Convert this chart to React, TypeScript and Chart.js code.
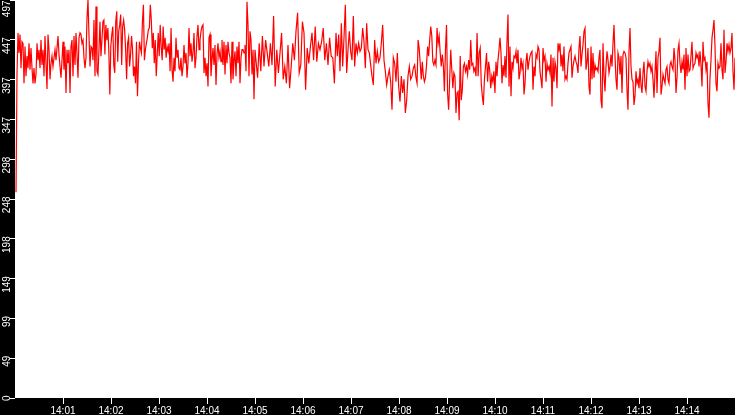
import { useEffect, useRef } from "react"
import { Chart, registerables } from "chart.js"

Chart.register(...registerables)

// readings per ~80px stretch of the plot, left to right (14:00 → 14:15)
const seg0 = [257, 405, 456, 431, 454, 412, 445, 443, 393, 439, 402, 427, 412, 443, 410, 437, 412, 393, 412, 393, 404, 443, 422, 435, 412, 447, 416, 435, 402, 452, 418, 386, 454, 435, 398, 418, 427, 414, 425, 435, 422, 437, 452, 429, 414, 400, 422, 445, 410, 439, 381, 435, 418, 435, 381, 439, 447, 402, 452, 416, 456, 429, 400, 450, 456, 454, 443, 447, 425, 412, 425, 475, 497, 452, 414, 439, 437, 422, 472, 402]
const seg1 = [489, 408, 404, 435, 470, 427, 447, 470, 472, 429, 466, 447, 462, 433, 379, 439, 454, 464, 416, 406, 470, 483, 420, 458, 466, 479, 416, 464, 472, 460, 435, 398, 443, 450, 414, 429, 452, 435, 402, 414, 393, 445, 377, 418, 445, 437, 431, 470, 491, 422, 435, 443, 450, 460, 462, 491, 472, 437, 456, 418, 447, 402, 429, 456, 427, 466, 439, 422, 464, 435, 450, 425, 439, 433, 443, 408, 462, 410, 395, 425, 408]
const seg2 = [450, 425, 435, 412, 410, 425, 402, 414, 441, 418, 431, 400, 418, 462, 427, 443, 420, 431, 456, 412, 425, 452, 466, 435, 447, 458, 464, 466, 406, 425, 402, 418, 389, 450, 454, 402, 422, 437, 416, 441, 391, 429, 443, 425, 433, 420, 447, 416, 445, 404, 441, 418, 445, 431, 425, 393, 445, 398, 420, 433, 402, 439, 418, 445, 393, 425, 435, 435, 431, 441, 408, 495, 466, 402, 458, 447, 404, 435, 373, 435]
const seg3 = [435, 400, 443, 408, 452, 414, 447, 431, 414, 443, 416, 477, 389, 435, 406, 431, 456, 398, 414, 393, 441, 387, 414, 443, 422, 458, 481, 406, 416, 470, 456, 385, 437, 418, 439, 456, 422, 464, 420, 443, 435, 445, 462, 422, 443, 416, 450, 427, 425, 393]
const seg4 = [456, 427, 454, 408, 468, 414, 450, 491, 406, 435, 458, 433, 422, 477, 414, 443, 431, 443, 433, 437, 462, 445, 412, 468, 435, 431, 416, 402, 391, 447, 418, 433, 420, 425, 443, 466, 422, 408, 391, 402, 410, 395, 360, 425, 418, 395, 431, 389, 370, 402, 381, 398, 356, 372, 402, 414, 398, 402, 412, 416]
const seg5 = [400, 393, 447, 437, 418, 398, 420, 402, 395, 400, 416, 439, 427, 447, 464, 452, 420, 416, 422, 416, 462, 443, 452, 431, 414, 429, 416, 383, 435, 466, 381, 360, 398, 435, 410, 387, 406, 402, 356, 381, 383, 347, 427, 372, 385, 414, 418, 408, 414, 404, 422, 410, 447, 416, 418, 408, 412, 402, 456, 402, 431, 437, 393, 377, 366, 398, 414, 431, 395, 420, 410, 387, 402, 395, 408, 381]
const seg6 = [420, 402, 422, 435, 450, 431, 393, 416, 402, 427, 400, 445, 479, 389, 439, 377, 420, 412, 427, 425, 433, 418, 435, 398, 406, 425, 412, 418, 379, 393, 420, 431, 410, 420, 427, 431, 433, 385, 414, 402, 429, 425, 439, 435, 408, 398, 387, 437, 422, 427, 395, 418, 410, 414, 406, 429, 364, 425, 395, 420, 412, 387, 443, 435, 443, 414, 429, 408, 439, 398, 402, 398, 418, 431, 435, 439, 400, 414, 422, 427]
const seg7 = [420, 416, 406, 437, 452, 414, 429, 441, 458, 462, 410, 420, 437, 389, 379, 439, 398, 431, 400, 416, 410, 412, 408, 425, 435, 372, 362, 443, 402, 383, 414, 433, 422, 406, 414, 429, 414, 443, 466, 427, 398, 385, 431, 425, 404, 427, 381, 429, 433, 431, 425, 385, 360, 433, 462, 414, 398, 395, 366, 377, 408, 393, 398, 387, 412, 391, 381, 406, 420, 389, 383, 408, 420, 414, 418, 408, 414, 398, 375, 406]
const seg8 = [433, 381, 425, 433, 450, 379, 389, 404, 398, 393, 410, 414, 398, 393, 416, 420, 414, 410, 437, 422, 381, 400, 435, 443, 418, 406, 420, 410, 429, 385, 437, 402, 429, 408, 410, 427, 445, 412, 416, 418, 431, 425, 429, 414, 433, 416, 389, 445, 422, 425, 410, 420, 368, 350, 400, 422, 450, 460, 472, 439, 393, 383, 418, 412, 414, 443, 410, 398, 460, 406, 420, 443, 433, 441, 431, 437, 456, 408, 385, 425]

const segments = [seg0, seg1, seg2, seg3, seg4, seg5, seg6, seg7, seg8]
const segSeconds = 100 // each stretch covers 100 s
const startSecond = 1.25
const yMax = 497.1
const xMax = 900 // 14:00 → 14:15, in seconds
const minuteTicks = [1, 2, 3, 4, 5, 6, 7, 8, 9, 10, 11, 12, 13, 14]

const points = segments.flatMap((seg, k) =>
  seg.map((v, i) => ({ x: startSecond + k * segSeconds + (i * segSeconds) / seg.length, y: v }))
)

const frame = {
  id: "frame",
  beforeDraw(chart: Chart) {
    const { ctx, chartArea, width, height } = chart
    ctx.save()
    ctx.fillStyle = "#000"
    ctx.fillRect(0, 0, width, height)
    ctx.fillStyle = "#fff"
    ctx.fillRect(chartArea.left, chartArea.top, chartArea.right - chartArea.left, chartArea.bottom - chartArea.top)
    ctx.restore()
  },
  afterDraw(chart: Chart) {
    // vertical y labels, reading bottom to top
    const { ctx } = chart
    const y = chart.scales.y
    ctx.save()
    ctx.fillStyle = "#fff"
    ctx.font = "10px 'Liberation Sans'"
    ctx.textAlign = "right"
    ctx.textBaseline = "alphabetic"
    y.ticks.forEach((t) => {
      const py = y.getPixelForValue(t.value)
      const end = Math.max(py - 2.5, 0.5)
      ctx.save()
      ctx.translate(9.5, end)
      ctx.rotate(-Math.PI / 2)
      ctx.fillText(String(Math.floor(t.value)), 0, 0)
      ctx.restore()
    })
    ctx.restore()
  },
}

export default function App() {
  const chartRef = useRef<HTMLCanvasElement | null>(null)
  const chartInstance = useRef<Chart | null>(null)

  useEffect(() => {
    if (!chartRef.current) return
    if (chartInstance.current) chartInstance.current.destroy()

    const ctx = chartRef.current.getContext("2d")
    if (!ctx) return

    chartInstance.current = new Chart(ctx, {
      type: "line",
      data: {
        datasets: [
          {
            data: points,
            borderColor: "rgb(255, 0, 0)",
            borderWidth: 1.2,
            pointRadius: 0,
            tension: 0,
            fill: false,
          },
        ],
      },
      options: {
        responsive: true,
        maintainAspectRatio: false,
        animation: false,
        layout: { padding: 0 },
        plugins: { legend: { display: false }, tooltip: { enabled: false } },
        scales: {
          x: {
            type: "linear",
            min: 0,
            max: xMax,
            afterBuildTicks: (axis) => {
              axis.ticks = minuteTicks.map((m) => ({ value: m * 60 }))
            },
            afterFit: (axis) => {
              axis.height = 17
            },
            grid: { drawOnChartArea: false, drawTicks: true, tickLength: 6, color: "#fff" },
            border: { display: false },
            ticks: {
              color: "#fff",
              font: { family: "'Liberation Sans'", size: 10 },
              padding: 1,
              maxRotation: 0,
              autoSkip: false,
              callback: (v) => "14:" + String(Math.round(Number(v) / 60)).padStart(2, "0"),
            },
          },
          y: {
            min: 0,
            max: yMax,
            afterBuildTicks: (axis) => {
              axis.ticks = [0, 1, 2, 3, 4, 5, 6, 7, 8, 9, 10].map((i) => ({ value: (i * yMax) / 10 }))
            },
            afterFit: (axis) => {
              axis.width = 15
            },
            grid: { drawOnChartArea: false, drawTicks: true, tickLength: 5, color: "#fff" },
            border: { display: false },
            ticks: { display: false },
          },
        },
      },
      plugins: [frame],
    })

    return () => {
      if (chartInstance.current) {
        chartInstance.current.destroy()
        chartInstance.current = null
      }
    }
  }, [])

  return (
    <div style={{ position: "fixed", left: 0, top: 0, width: 735, height: 415 }}>
      <canvas ref={chartRef} />
    </div>
  )
}
